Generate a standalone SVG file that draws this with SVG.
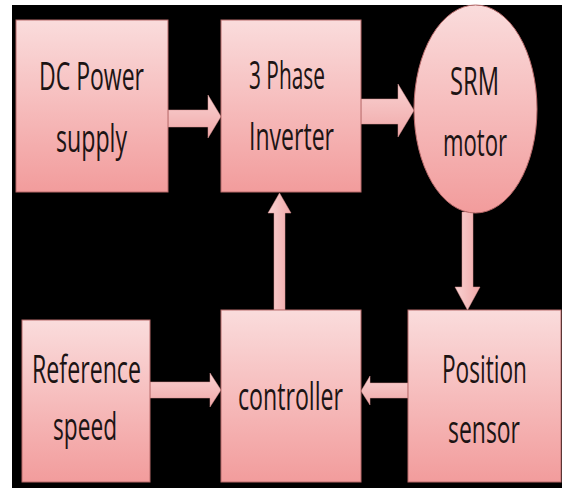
<svg xmlns="http://www.w3.org/2000/svg" width="562" height="488" viewBox="0 0 562 488">
  <defs>
    <linearGradient id="pink" x1="0" y1="0" x2="0" y2="1">
      <stop offset="0" stop-color="#fadcdc"/>
      <stop offset="1" stop-color="#f29c9c"/>
    </linearGradient>
    <linearGradient id="arrowFill" x1="0" y1="0" x2="0" y2="1">
      <stop offset="0" stop-color="#f9d2d2"/>
      <stop offset="1" stop-color="#f0a8a8"/>
    </linearGradient>
    <linearGradient id="arrowFillH" x1="0" y1="0" x2="1" y2="0">
      <stop offset="0" stop-color="#f9d2d2"/>
      <stop offset="1" stop-color="#f0a8a8"/>
    </linearGradient>
  </defs>
  <style>
    .box { fill: url(#pink); stroke: #b86a6a; stroke-width: 1; }
    .lbl { font-family: "Open Sans", "Liberation Sans", sans-serif; font-size: 26px; fill: #1c1414; text-anchor: middle; }
    .arr { fill: url(#arrowFill); stroke: #d99090; stroke-width: 0.5; }
    .arrh { fill: url(#arrowFillH); stroke: #d99090; stroke-width: 0.5; }
  </style>
  <rect x="0" y="0" width="562" height="488" fill="#ffffff"/>
  <rect x="12" y="5" width="550" height="483" fill="#000000"/>

  <g id="connectors">
    <polygon class="arr" points="168,110 208,110 208,95 221,116.5 208,138 208,127 168,127"/>
    <polygon class="arr" points="361,99 398,99 398,84 414,110.5 398,137 398,124 361,124"/>
    <polygon class="arrh" points="274,310 274,213 268,213 279.5,193 291,213 285,213 285,310"/>
    <polygon class="arrh" points="462,212 473,212 473,287 480,287 467.5,310 455,287 462,287"/>
    <polygon class="arr" points="150,382 210,382 210,373 221,390 210,407 210,398 150,398"/>
    <polygon class="arr" points="408,383 370,383 370,376 361,391 370,405 370,398 408,398"/>
  </g>

  <g id="dc-power">
    <rect class="box" x="16" y="20" width="152" height="172"/>
    <text class="lbl" transform="translate(91.5,90) scale(1,1.5)" x="0" y="0" textLength="105" lengthAdjust="spacingAndGlyphs">DC Power</text>
    <text class="lbl" transform="translate(91.5,152) scale(1,1.5)" x="0" y="0" textLength="71" lengthAdjust="spacingAndGlyphs">supply</text>
  </g>

  <g id="inverter">
    <rect class="box" x="221" y="20" width="140" height="172"/>
    <text class="lbl" transform="translate(287,89) scale(1,1.5)" x="0" y="0" textLength="76" lengthAdjust="spacingAndGlyphs">3 Phase</text>
    <text class="lbl" transform="translate(291.5,150) scale(1,1.5)" x="0" y="0" textLength="85" lengthAdjust="spacingAndGlyphs">Inverter</text>
  </g>

  <g id="srm-motor">
    <ellipse class="box" cx="475.5" cy="109" rx="61.5" ry="104"/>
    <text class="lbl" transform="translate(474.5,95) scale(1,1.5)" x="0" y="0" textLength="49" lengthAdjust="spacingAndGlyphs">SRM</text>
    <text class="lbl" transform="translate(475,156) scale(1,1.5)" x="0" y="0" textLength="64" lengthAdjust="spacingAndGlyphs">motor</text>
  </g>

  <g id="reference-speed">
    <rect class="box" x="22" y="320" width="128" height="162"/>
    <text class="lbl" transform="translate(86.5,383) scale(1,1.5)" x="0" y="0" textLength="109" lengthAdjust="spacingAndGlyphs">Reference</text>
    <text class="lbl" transform="translate(85,440) scale(1,1.5)" x="0" y="0" textLength="64" lengthAdjust="spacingAndGlyphs">speed</text>
  </g>

  <g id="controller">
    <rect class="box" x="221" y="310" width="140" height="172"/>
    <text class="lbl" transform="translate(290.5,410) scale(1,1.5)" x="0" y="0" textLength="105" lengthAdjust="spacingAndGlyphs">controller</text>
  </g>

  <g id="position-sensor">
    <rect class="box" x="408" y="310" width="153" height="172"/>
    <text class="lbl" transform="translate(484.5,383) scale(1,1.5)" x="0" y="0" textLength="85" lengthAdjust="spacingAndGlyphs">Position</text>
    <text class="lbl" transform="translate(484,443) scale(1,1.5)" x="0" y="0" textLength="72" lengthAdjust="spacingAndGlyphs">sensor</text>
  </g>
</svg>
